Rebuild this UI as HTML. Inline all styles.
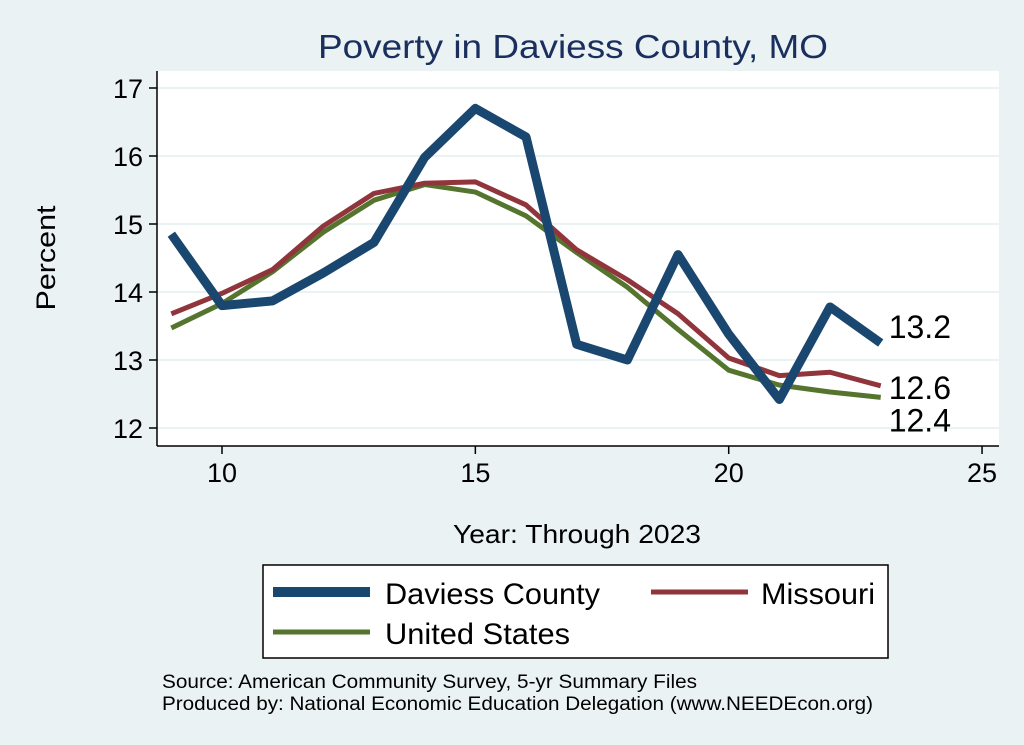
<!DOCTYPE html>
<html><head><meta charset="utf-8"><style>
body{margin:0;width:1024px;height:745px;background:#eaf2f3;overflow:hidden}
svg{display:block;font-family:"Liberation Sans",sans-serif}
</style></head><body>
<svg id="chart" width="1024" height="745">
<rect x="157" y="71" width="842" height="375" fill="#fff"/>
<text x="318" y="58" font-size="33" fill="#1a2f5e" textLength="510" lengthAdjust="spacingAndGlyphs">Poverty in Daviess County, MO</text>
<g id="grid"></g><g id="axes"></g><g id="series"></g>
<text transform="translate(55,258) rotate(-90)" font-size="27" text-anchor="middle" textLength="105" lengthAdjust="spacingAndGlyphs">Percent</text>
<text x="453" y="543" font-size="26" textLength="248" lengthAdjust="spacingAndGlyphs">Year: Through 2023</text>
<g>
<rect x="263" y="565" width="625" height="93" fill="#fff" stroke="#000" stroke-width="1.5"/>
<line x1="273" y1="592" x2="370" y2="592" stroke="#1a476f" stroke-width="10"/>
<text x="385" y="604" font-size="30" textLength="215" lengthAdjust="spacingAndGlyphs">Daviess County</text>
<line x1="651" y1="592" x2="748" y2="592" stroke="#90353b" stroke-width="5"/>
<text x="761" y="604" font-size="30" textLength="114" lengthAdjust="spacingAndGlyphs">Missouri</text>
<line x1="273" y1="632" x2="370" y2="632" stroke="#55752f" stroke-width="5"/>
<text x="385" y="644" font-size="30" textLength="185" lengthAdjust="spacingAndGlyphs">United States</text>
</g>
<text x="162" y="688" font-size="19" textLength="535" lengthAdjust="spacingAndGlyphs">Source: American Community Survey, 5-yr Summary Files</text>
<text x="162" y="710" font-size="19" textLength="711" lengthAdjust="spacingAndGlyphs">Produced by: National Economic Education Delegation (www.NEEDEcon.org)</text>
</svg>
<script>
const years=[9,10,11,12,13,14,15,16,17,18,19,20,21,22,23];
const daviess=[14.85,13.8,13.87,14.28,14.73,15.98,16.7,16.28,13.23,13.0,14.55,13.38,12.42,13.78,13.25];
const missouri=[13.68,13.98,14.33,14.97,15.45,15.6,15.62,15.28,14.62,14.18,13.68,13.03,12.77,12.82,12.62];
const us=[13.47,13.83,14.3,14.88,15.35,15.58,15.47,15.12,14.58,14.07,13.45,12.85,12.63,12.53,12.45];
const xTicks=[10,15,20,25];
const yTicks=[12,13,14,15,16,17];
const endLabels=["13.2","12.6","12.4"];
const NS="http://www.w3.org/2000/svg";
const X=v=>222+(v-10)*50.67, Y=v=>428-(v-12)*68;
function mk(p,t,a){const e=document.createElementNS(NS,t);for(const k in a)e.setAttribute(k,a[k]);p.appendChild(e);return e;}
const g=document.getElementById('grid'),ax=document.getElementById('axes'),s=document.getElementById('series');
mk(ax,'line',{x1:157,y1:71,x2:157,y2:446,stroke:'#000','stroke-width':1.5});
mk(ax,'line',{x1:157,y1:446,x2:999,y2:446,stroke:'#000','stroke-width':1.5});
yTicks.forEach(t=>{const y=Y(t);
 const gl=mk(g,'line',{x1:157,y1:y,x2:999,y2:y,stroke:'#eaf2f3','stroke-width':2});
 
 
 mk(ax,'line',{x1:149,y1:y,x2:157,y2:y,stroke:'#000','stroke-width':1.5});
 const tx=mk(ax,'text',{x:143,y:y+10,'font-size':27,'text-anchor':'end'});tx.textContent=t;
 
 });
xTicks.forEach(t=>{const x=X(t);
 mk(ax,'line',{x1:x,y1:446,x2:x,y2:454,stroke:'#000','stroke-width':1.5});
 const tx=mk(ax,'text',{x:x,y:482,'font-size':27,'text-anchor':'middle'});tx.textContent=t;
 
 });
function line(d,c,w,n){const p=mk(s,'polyline',{points:years.map((y,i)=>X(y)+','+Y(d[i])).join(' '),fill:'none',stroke:c,'stroke-width':w,'stroke-linejoin':'round'});
 
 }
line(us,'#55752f',5,'us-line');
line(missouri,'#90353b',5,'missouri-line');
line(daviess,'#1a476f',9,'daviess-line');
const last=years.length-1,lx=X(years[last])+8;
[[daviess,-5],[missouri,13],[us,34]].forEach(([d,off],i)=>{
 const t=mk(s,'text',{x:lx,y:Y(d[last])+off,'font-size':32});t.textContent=endLabels[i];
 
 });
</script>
</body></html>
